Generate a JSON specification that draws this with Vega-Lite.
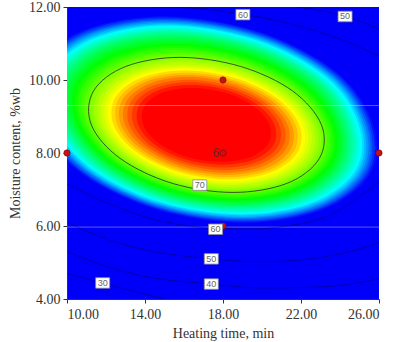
{
"$schema": "https://vega.github.io/schema/vega-lite/v6.json",
"width": 312, "height": 292,
"autosize": "none",
"padding": {"left": 67, "top": 7, "right": 24, "bottom": 43},
"background": "white",
"config": {
  "view": {"fill": "#0000fa", "stroke": null},
  "axis": {"grid": false, "labelFont": "Liberation Serif", "labelFontSize": 14, "titleFont": "Liberation Serif", "titleFontSize": 14, "titleFontWeight": "normal", "labelColor": "#333", "titleColor": "#333", "domainColor": "#333", "tickColor": "#333", "tickSize": 4, "labelPadding": 3}
},
"datasets": {
"bands": [
{"l":101,"i":0,"x":25.70,"y":8.77,"z":63.01},{"l":101,"i":1,"x":23.91,"y":10.18,"z":63.01},{"l":101,"i":2,"x":19.95,"y":11.31,"z":63.01},{"l":101,"i":3,"x":14.95,"y":11.75,"z":63.01},{"l":101,"i":4,"x":10.59,"y":11.31,"z":63.01},{"l":101,"i":5,"x":8.29,"y":10.18,"z":63.01},{"l":101,"i":6,"x":8.60,"y":8.77,"z":63.01},{"l":101,"i":7,"x":10.74,"y":7.43,"z":63.01},{"l":101,"i":8,"x":14.59,"y":6.45,"z":63.01},{"l":101,"i":9,"x":19.14,"y":6.09,"z":63.01},{"l":101,"i":10,"x":23.14,"y":6.45,"z":63.01},{"l":101,"i":11,"x":25.55,"y":7.43,"z":63.01},
{"l":102,"i":0,"x":25.60,"y":8.77,"z":63.34},{"l":102,"i":1,"x":23.83,"y":10.17,"z":63.34},{"l":102,"i":2,"x":19.92,"y":11.28,"z":63.34},{"l":102,"i":3,"x":14.97,"y":11.71,"z":63.34},{"l":102,"i":4,"x":10.66,"y":11.28,"z":63.34},{"l":102,"i":5,"x":8.40,"y":10.17,"z":63.34},{"l":102,"i":6,"x":8.70,"y":8.77,"z":63.34},{"l":102,"i":7,"x":10.82,"y":7.45,"z":63.34},{"l":102,"i":8,"x":14.62,"y":6.48,"z":63.34},{"l":102,"i":9,"x":19.11,"y":6.12,"z":63.34},{"l":102,"i":10,"x":23.07,"y":6.48,"z":63.34},{"l":102,"i":11,"x":25.45,"y":7.45,"z":63.34},
{"l":103,"i":0,"x":25.49,"y":8.77,"z":63.66},{"l":103,"i":1,"x":23.75,"y":10.15,"z":63.66},{"l":103,"i":2,"x":19.88,"y":11.25,"z":63.66},{"l":103,"i":3,"x":15.00,"y":11.67,"z":63.66},{"l":103,"i":4,"x":10.74,"y":11.25,"z":63.66},{"l":103,"i":5,"x":8.50,"y":10.15,"z":63.66},{"l":103,"i":6,"x":8.81,"y":8.77,"z":63.66},{"l":103,"i":7,"x":10.89,"y":7.46,"z":63.66},{"l":103,"i":8,"x":14.66,"y":6.50,"z":63.66},{"l":103,"i":9,"x":19.09,"y":6.15,"z":63.66},{"l":103,"i":10,"x":23.00,"y":6.50,"z":63.66},{"l":103,"i":11,"x":25.34,"y":7.46,"z":63.66},
{"l":104,"i":0,"x":25.39,"y":8.77,"z":63.99},{"l":104,"i":1,"x":23.67,"y":10.13,"z":63.99},{"l":104,"i":2,"x":19.85,"y":11.22,"z":63.99},{"l":104,"i":3,"x":15.03,"y":11.64,"z":63.99},{"l":104,"i":4,"x":10.82,"y":11.22,"z":63.99},{"l":104,"i":5,"x":8.61,"y":10.13,"z":63.99},{"l":104,"i":6,"x":8.91,"y":8.77,"z":63.99},{"l":104,"i":7,"x":10.97,"y":7.48,"z":63.99},{"l":104,"i":8,"x":14.69,"y":6.53,"z":63.99},{"l":104,"i":9,"x":19.06,"y":6.19,"z":63.99},{"l":104,"i":10,"x":22.93,"y":6.53,"z":63.99},{"l":104,"i":11,"x":25.24,"y":7.48,"z":63.99},
{"l":105,"i":0,"x":25.28,"y":8.77,"z":64.31},{"l":105,"i":1,"x":23.58,"y":10.12,"z":64.31},{"l":105,"i":2,"x":19.81,"y":11.19,"z":64.31},{"l":105,"i":3,"x":15.05,"y":11.60,"z":64.31},{"l":105,"i":4,"x":10.91,"y":11.19,"z":64.31},{"l":105,"i":5,"x":8.72,"y":10.12,"z":64.31},{"l":105,"i":6,"x":9.02,"y":8.77,"z":64.31},{"l":105,"i":7,"x":11.05,"y":7.50,"z":64.31},{"l":105,"i":8,"x":14.72,"y":6.56,"z":64.31},{"l":105,"i":9,"x":19.04,"y":6.22,"z":64.31},{"l":105,"i":10,"x":22.85,"y":6.56,"z":64.31},{"l":105,"i":11,"x":25.14,"y":7.50,"z":64.31},
{"l":106,"i":0,"x":25.17,"y":8.77,"z":64.64},{"l":106,"i":1,"x":23.50,"y":10.10,"z":64.64},{"l":106,"i":2,"x":19.78,"y":11.16,"z":64.64},{"l":106,"i":3,"x":15.08,"y":11.56,"z":64.64},{"l":106,"i":4,"x":10.99,"y":11.16,"z":64.64},{"l":106,"i":5,"x":8.84,"y":10.10,"z":64.64},{"l":106,"i":6,"x":9.13,"y":8.77,"z":64.64},{"l":106,"i":7,"x":11.13,"y":7.51,"z":64.64},{"l":106,"i":8,"x":14.75,"y":6.59,"z":64.64},{"l":106,"i":9,"x":19.01,"y":6.25,"z":64.64},{"l":106,"i":10,"x":22.78,"y":6.59,"z":64.64},{"l":106,"i":11,"x":25.03,"y":7.51,"z":64.64},
{"l":107,"i":0,"x":25.07,"y":8.77,"z":64.96},{"l":107,"i":1,"x":23.41,"y":10.08,"z":64.96},{"l":107,"i":2,"x":19.74,"y":11.12,"z":64.96},{"l":107,"i":3,"x":15.11,"y":11.53,"z":64.96},{"l":107,"i":4,"x":11.07,"y":11.12,"z":64.96},{"l":107,"i":5,"x":8.95,"y":10.08,"z":64.96},{"l":107,"i":6,"x":9.23,"y":8.77,"z":64.96},{"l":107,"i":7,"x":11.21,"y":7.53,"z":64.96},{"l":107,"i":8,"x":14.78,"y":6.62,"z":64.96},{"l":107,"i":9,"x":18.99,"y":6.29,"z":64.96},{"l":107,"i":10,"x":22.70,"y":6.62,"z":64.96},{"l":107,"i":11,"x":24.92,"y":7.53,"z":64.96},
{"l":108,"i":0,"x":24.96,"y":8.77,"z":65.29},{"l":108,"i":1,"x":23.33,"y":10.06,"z":65.29},{"l":108,"i":2,"x":19.71,"y":11.09,"z":65.29},{"l":108,"i":3,"x":15.14,"y":11.49,"z":65.29},{"l":108,"i":4,"x":11.16,"y":11.09,"z":65.29},{"l":108,"i":5,"x":9.06,"y":10.06,"z":65.29},{"l":108,"i":6,"x":9.34,"y":8.77,"z":65.29},{"l":108,"i":7,"x":11.30,"y":7.55,"z":65.29},{"l":108,"i":8,"x":14.82,"y":6.65,"z":65.29},{"l":108,"i":9,"x":18.96,"y":6.32,"z":65.29},{"l":108,"i":10,"x":22.62,"y":6.65,"z":65.29},{"l":108,"i":11,"x":24.82,"y":7.55,"z":65.29},
{"l":109,"i":0,"x":24.84,"y":8.77,"z":65.61},{"l":109,"i":1,"x":23.24,"y":10.04,"z":65.61},{"l":109,"i":2,"x":19.67,"y":11.06,"z":65.61},{"l":109,"i":3,"x":15.17,"y":11.45,"z":65.61},{"l":109,"i":4,"x":11.24,"y":11.06,"z":65.61},{"l":109,"i":5,"x":9.18,"y":10.04,"z":65.61},{"l":109,"i":6,"x":9.46,"y":8.77,"z":65.61},{"l":109,"i":7,"x":11.38,"y":7.56,"z":65.61},{"l":109,"i":8,"x":14.85,"y":6.68,"z":65.61},{"l":109,"i":9,"x":18.94,"y":6.36,"z":65.61},{"l":109,"i":10,"x":22.54,"y":6.68,"z":65.61},{"l":109,"i":11,"x":24.70,"y":7.56,"z":65.61},
{"l":110,"i":0,"x":24.73,"y":8.77,"z":65.94},{"l":110,"i":1,"x":23.15,"y":10.02,"z":65.94},{"l":110,"i":2,"x":19.63,"y":11.02,"z":65.94},{"l":110,"i":3,"x":15.20,"y":11.41,"z":65.94},{"l":110,"i":4,"x":11.33,"y":11.02,"z":65.94},{"l":110,"i":5,"x":9.30,"y":10.02,"z":65.94},{"l":110,"i":6,"x":9.57,"y":8.77,"z":65.94},{"l":110,"i":7,"x":11.47,"y":7.58,"z":65.94},{"l":110,"i":8,"x":14.88,"y":6.71,"z":65.94},{"l":110,"i":9,"x":18.91,"y":6.39,"z":65.94},{"l":110,"i":10,"x":22.46,"y":6.71,"z":65.94},{"l":110,"i":11,"x":24.59,"y":7.58,"z":65.94},
{"l":111,"i":0,"x":24.61,"y":8.77,"z":66.26},{"l":111,"i":1,"x":23.05,"y":10.00,"z":66.26},{"l":111,"i":2,"x":19.59,"y":10.99,"z":66.26},{"l":111,"i":3,"x":15.23,"y":11.37,"z":66.26},{"l":111,"i":4,"x":11.42,"y":10.99,"z":66.26},{"l":111,"i":5,"x":9.42,"y":10.00,"z":66.26},{"l":111,"i":6,"x":9.69,"y":8.77,"z":66.26},{"l":111,"i":7,"x":11.55,"y":7.60,"z":66.26},{"l":111,"i":8,"x":14.92,"y":6.74,"z":66.26},{"l":111,"i":9,"x":18.88,"y":6.43,"z":66.26},{"l":111,"i":10,"x":22.38,"y":6.74,"z":66.26},{"l":111,"i":11,"x":24.48,"y":7.60,"z":66.26},
{"l":112,"i":0,"x":24.50,"y":8.77,"z":66.59},{"l":112,"i":1,"x":22.96,"y":9.99,"z":66.59},{"l":112,"i":2,"x":19.55,"y":10.95,"z":66.59},{"l":112,"i":3,"x":15.26,"y":11.33,"z":66.59},{"l":112,"i":4,"x":11.51,"y":10.95,"z":66.59},{"l":112,"i":5,"x":9.54,"y":9.99,"z":66.59},{"l":112,"i":6,"x":9.80,"y":8.77,"z":66.59},{"l":112,"i":7,"x":11.64,"y":7.62,"z":66.59},{"l":112,"i":8,"x":14.95,"y":6.78,"z":66.59},{"l":112,"i":9,"x":18.86,"y":6.47,"z":66.59},{"l":112,"i":10,"x":22.30,"y":6.78,"z":66.59},{"l":112,"i":11,"x":24.36,"y":7.62,"z":66.59},
{"l":113,"i":0,"x":24.38,"y":8.77,"z":66.91},{"l":113,"i":1,"x":22.87,"y":9.97,"z":66.91},{"l":113,"i":2,"x":19.52,"y":10.92,"z":66.91},{"l":113,"i":3,"x":15.29,"y":11.28,"z":66.91},{"l":113,"i":4,"x":11.60,"y":10.92,"z":66.91},{"l":113,"i":5,"x":9.66,"y":9.97,"z":66.91},{"l":113,"i":6,"x":9.92,"y":8.77,"z":66.91},{"l":113,"i":7,"x":11.73,"y":7.64,"z":66.91},{"l":113,"i":8,"x":14.99,"y":6.81,"z":66.91},{"l":113,"i":9,"x":18.83,"y":6.50,"z":66.91},{"l":113,"i":10,"x":22.22,"y":6.81,"z":66.91},{"l":113,"i":11,"x":24.25,"y":7.64,"z":66.91},
{"l":114,"i":0,"x":24.25,"y":8.77,"z":67.24},{"l":114,"i":1,"x":22.77,"y":9.95,"z":67.24},{"l":114,"i":2,"x":19.48,"y":10.88,"z":67.24},{"l":114,"i":3,"x":15.32,"y":11.24,"z":67.24},{"l":114,"i":4,"x":11.69,"y":10.88,"z":67.24},{"l":114,"i":5,"x":9.79,"y":9.95,"z":67.24},{"l":114,"i":6,"x":10.05,"y":8.77,"z":67.24},{"l":114,"i":7,"x":11.82,"y":7.66,"z":67.24},{"l":114,"i":8,"x":15.03,"y":6.84,"z":67.24},{"l":114,"i":9,"x":18.80,"y":6.54,"z":67.24},{"l":114,"i":10,"x":22.13,"y":6.84,"z":67.24},{"l":114,"i":11,"x":24.13,"y":7.66,"z":67.24},
{"l":115,"i":0,"x":24.13,"y":8.77,"z":67.56},{"l":115,"i":1,"x":22.66,"y":9.92,"z":67.56},{"l":115,"i":2,"x":19.42,"y":10.84,"z":67.56},{"l":115,"i":3,"x":15.36,"y":11.19,"z":67.56},{"l":115,"i":4,"x":11.81,"y":10.84,"z":67.56},{"l":115,"i":5,"x":9.94,"y":9.92,"z":67.56},{"l":115,"i":6,"x":10.17,"y":8.77,"z":67.56},{"l":115,"i":7,"x":11.92,"y":7.68,"z":67.56},{"l":115,"i":8,"x":15.06,"y":6.87,"z":67.56},{"l":115,"i":9,"x":18.77,"y":6.58,"z":67.56},{"l":115,"i":10,"x":22.04,"y":6.87,"z":67.56},{"l":115,"i":11,"x":24.01,"y":7.68,"z":67.56},
{"l":116,"i":0,"x":24.01,"y":8.77,"z":67.89},{"l":116,"i":1,"x":22.54,"y":9.90,"z":67.89},{"l":116,"i":2,"x":19.37,"y":10.79,"z":67.89},{"l":116,"i":3,"x":15.41,"y":11.13,"z":67.89},{"l":116,"i":4,"x":11.94,"y":10.79,"z":67.89},{"l":116,"i":5,"x":10.09,"y":9.90,"z":67.89},{"l":116,"i":6,"x":10.29,"y":8.77,"z":67.89},{"l":116,"i":7,"x":12.01,"y":7.70,"z":67.89},{"l":116,"i":8,"x":15.10,"y":6.91,"z":67.89},{"l":116,"i":9,"x":18.74,"y":6.62,"z":67.89},{"l":116,"i":10,"x":21.96,"y":6.91,"z":67.89},{"l":116,"i":11,"x":23.88,"y":7.70,"z":67.89},
{"l":117,"i":0,"x":23.88,"y":8.77,"z":68.21},{"l":117,"i":1,"x":22.42,"y":9.87,"z":68.21},{"l":117,"i":2,"x":19.31,"y":10.74,"z":68.21},{"l":117,"i":3,"x":15.45,"y":11.06,"z":68.21},{"l":117,"i":4,"x":12.07,"y":10.74,"z":68.21},{"l":117,"i":5,"x":10.25,"y":9.87,"z":68.21},{"l":117,"i":6,"x":10.42,"y":8.77,"z":68.21},{"l":117,"i":7,"x":12.11,"y":7.72,"z":68.21},{"l":117,"i":8,"x":15.14,"y":6.94,"z":68.21},{"l":117,"i":9,"x":18.71,"y":6.66,"z":68.21},{"l":117,"i":10,"x":21.87,"y":6.94,"z":68.21},{"l":117,"i":11,"x":23.76,"y":7.72,"z":68.21},
{"l":118,"i":0,"x":23.75,"y":8.77,"z":68.54},{"l":118,"i":1,"x":22.29,"y":9.85,"z":68.54},{"l":118,"i":2,"x":19.26,"y":10.69,"z":68.54},{"l":118,"i":3,"x":15.50,"y":11.00,"z":68.54},{"l":118,"i":4,"x":12.21,"y":10.69,"z":68.54},{"l":118,"i":5,"x":10.41,"y":9.85,"z":68.54},{"l":118,"i":6,"x":10.55,"y":8.77,"z":68.54},{"l":118,"i":7,"x":12.20,"y":7.74,"z":68.54},{"l":118,"i":8,"x":15.18,"y":6.98,"z":68.54},{"l":118,"i":9,"x":18.68,"y":6.70,"z":68.54},{"l":118,"i":10,"x":21.77,"y":6.98,"z":68.54},{"l":118,"i":11,"x":23.63,"y":7.74,"z":68.54},
{"l":119,"i":0,"x":23.61,"y":8.77,"z":68.86},{"l":119,"i":1,"x":22.17,"y":9.82,"z":68.86},{"l":119,"i":2,"x":19.20,"y":10.63,"z":68.86},{"l":119,"i":3,"x":15.54,"y":10.94,"z":68.86},{"l":119,"i":4,"x":12.34,"y":10.63,"z":68.86},{"l":119,"i":5,"x":10.58,"y":9.82,"z":68.86},{"l":119,"i":6,"x":10.69,"y":8.77,"z":68.86},{"l":119,"i":7,"x":12.30,"y":7.76,"z":68.86},{"l":119,"i":8,"x":15.22,"y":7.02,"z":68.86},{"l":119,"i":9,"x":18.65,"y":6.74,"z":68.86},{"l":119,"i":10,"x":21.68,"y":7.02,"z":68.86},{"l":119,"i":11,"x":23.50,"y":7.76,"z":68.86},
{"l":120,"i":0,"x":23.48,"y":8.77,"z":69.19},{"l":120,"i":1,"x":22.04,"y":9.79,"z":69.19},{"l":120,"i":2,"x":19.14,"y":10.58,"z":69.19},{"l":120,"i":3,"x":15.59,"y":10.88,"z":69.19},{"l":120,"i":4,"x":12.47,"y":10.58,"z":69.19},{"l":120,"i":5,"x":10.74,"y":9.79,"z":69.19},{"l":120,"i":6,"x":10.82,"y":8.77,"z":69.19},{"l":120,"i":7,"x":12.41,"y":7.78,"z":69.19},{"l":120,"i":8,"x":15.26,"y":7.05,"z":69.19},{"l":120,"i":9,"x":18.62,"y":6.79,"z":69.19},{"l":120,"i":10,"x":21.59,"y":7.05,"z":69.19},{"l":120,"i":11,"x":23.36,"y":7.78,"z":69.19},
{"l":121,"i":0,"x":23.34,"y":8.77,"z":69.51},{"l":121,"i":1,"x":21.92,"y":9.77,"z":69.51},{"l":121,"i":2,"x":19.09,"y":10.53,"z":69.51},{"l":121,"i":3,"x":15.63,"y":10.82,"z":69.51},{"l":121,"i":4,"x":12.61,"y":10.53,"z":69.51},{"l":121,"i":5,"x":10.91,"y":9.77,"z":69.51},{"l":121,"i":6,"x":10.96,"y":8.77,"z":69.51},{"l":121,"i":7,"x":12.51,"y":7.80,"z":69.51},{"l":121,"i":8,"x":15.30,"y":7.09,"z":69.51},{"l":121,"i":9,"x":18.59,"y":6.83,"z":69.51},{"l":121,"i":10,"x":21.49,"y":7.09,"z":69.51},{"l":121,"i":11,"x":23.23,"y":7.80,"z":69.51},
{"l":122,"i":0,"x":23.20,"y":8.77,"z":69.84},{"l":122,"i":1,"x":21.79,"y":9.74,"z":69.84},{"l":122,"i":2,"x":19.03,"y":10.48,"z":69.84},{"l":122,"i":3,"x":15.68,"y":10.75,"z":69.84},{"l":122,"i":4,"x":12.74,"y":10.48,"z":69.84},{"l":122,"i":5,"x":11.08,"y":9.74,"z":69.84},{"l":122,"i":6,"x":11.10,"y":8.77,"z":69.84},{"l":122,"i":7,"x":12.62,"y":7.82,"z":69.84},{"l":122,"i":8,"x":15.34,"y":7.13,"z":69.84},{"l":122,"i":9,"x":18.55,"y":6.87,"z":69.84},{"l":122,"i":10,"x":21.39,"y":7.13,"z":69.84},{"l":122,"i":11,"x":23.09,"y":7.82,"z":69.84},
{"l":123,"i":0,"x":23.05,"y":8.77,"z":70.16},{"l":123,"i":1,"x":21.66,"y":9.71,"z":70.16},{"l":123,"i":2,"x":18.97,"y":10.42,"z":70.16},{"l":123,"i":3,"x":15.73,"y":10.69,"z":70.16},{"l":123,"i":4,"x":12.88,"y":10.42,"z":70.16},{"l":123,"i":5,"x":11.25,"y":9.71,"z":70.16},{"l":123,"i":6,"x":11.25,"y":8.77,"z":70.16},{"l":123,"i":7,"x":12.73,"y":7.85,"z":70.16},{"l":123,"i":8,"x":15.39,"y":7.17,"z":70.16},{"l":123,"i":9,"x":18.52,"y":6.92,"z":70.16},{"l":123,"i":10,"x":21.29,"y":7.17,"z":70.16},{"l":123,"i":11,"x":22.94,"y":7.85,"z":70.16},
{"l":124,"i":0,"x":22.90,"y":8.77,"z":70.49},{"l":124,"i":1,"x":21.52,"y":9.68,"z":70.49},{"l":124,"i":2,"x":18.91,"y":10.37,"z":70.49},{"l":124,"i":3,"x":15.78,"y":10.62,"z":70.49},{"l":124,"i":4,"x":13.02,"y":10.37,"z":70.49},{"l":124,"i":5,"x":11.42,"y":9.68,"z":70.49},{"l":124,"i":6,"x":11.40,"y":8.77,"z":70.49},{"l":124,"i":7,"x":12.84,"y":7.87,"z":70.49},{"l":124,"i":8,"x":15.43,"y":7.21,"z":70.49},{"l":124,"i":9,"x":18.49,"y":6.97,"z":70.49},{"l":124,"i":10,"x":21.18,"y":7.21,"z":70.49},{"l":124,"i":11,"x":22.80,"y":7.87,"z":70.49},
{"l":125,"i":0,"x":22.75,"y":8.77,"z":70.81},{"l":125,"i":1,"x":21.39,"y":9.66,"z":70.81},{"l":125,"i":2,"x":18.85,"y":10.31,"z":70.81},{"l":125,"i":3,"x":15.83,"y":10.56,"z":70.81},{"l":125,"i":4,"x":13.17,"y":10.31,"z":70.81},{"l":125,"i":5,"x":11.60,"y":9.66,"z":70.81},{"l":125,"i":6,"x":11.55,"y":8.77,"z":70.81},{"l":125,"i":7,"x":12.95,"y":7.89,"z":70.81},{"l":125,"i":8,"x":15.48,"y":7.25,"z":70.81},{"l":125,"i":9,"x":18.45,"y":7.01,"z":70.81},{"l":125,"i":10,"x":21.07,"y":7.25,"z":70.81},{"l":125,"i":11,"x":22.65,"y":7.89,"z":70.81},
{"l":126,"i":0,"x":22.59,"y":8.77,"z":71.14},{"l":126,"i":1,"x":21.25,"y":9.63,"z":71.14},{"l":126,"i":2,"x":18.79,"y":10.26,"z":71.14},{"l":126,"i":3,"x":15.88,"y":10.49,"z":71.14},{"l":126,"i":4,"x":13.31,"y":10.26,"z":71.14},{"l":126,"i":5,"x":11.79,"y":9.63,"z":71.14},{"l":126,"i":6,"x":11.71,"y":8.77,"z":71.14},{"l":126,"i":7,"x":13.07,"y":7.92,"z":71.14},{"l":126,"i":8,"x":15.52,"y":7.29,"z":71.14},{"l":126,"i":9,"x":18.41,"y":7.06,"z":71.14},{"l":126,"i":10,"x":20.96,"y":7.29,"z":71.14},{"l":126,"i":11,"x":22.49,"y":7.92,"z":71.14},
{"l":127,"i":0,"x":22.43,"y":8.77,"z":71.46},{"l":127,"i":1,"x":21.11,"y":9.60,"z":71.46},{"l":127,"i":2,"x":18.73,"y":10.20,"z":71.46},{"l":127,"i":3,"x":15.92,"y":10.42,"z":71.46},{"l":127,"i":4,"x":13.45,"y":10.20,"z":71.46},{"l":127,"i":5,"x":11.97,"y":9.60,"z":71.46},{"l":127,"i":6,"x":11.87,"y":8.77,"z":71.46},{"l":127,"i":7,"x":13.19,"y":7.94,"z":71.46},{"l":127,"i":8,"x":15.57,"y":7.34,"z":71.46},{"l":127,"i":9,"x":18.38,"y":7.12,"z":71.46},{"l":127,"i":10,"x":20.85,"y":7.34,"z":71.46},{"l":127,"i":11,"x":22.33,"y":7.94,"z":71.46},
{"l":128,"i":0,"x":22.26,"y":8.77,"z":71.79},{"l":128,"i":1,"x":20.98,"y":9.57,"z":71.79},{"l":128,"i":2,"x":18.68,"y":10.16,"z":71.79},{"l":128,"i":3,"x":15.96,"y":10.37,"z":71.79},{"l":128,"i":4,"x":13.57,"y":10.16,"z":71.79},{"l":128,"i":5,"x":12.13,"y":9.57,"z":71.79},{"l":128,"i":6,"x":12.04,"y":8.77,"z":71.79},{"l":128,"i":7,"x":13.32,"y":7.97,"z":71.79},{"l":128,"i":8,"x":15.62,"y":7.38,"z":71.79},{"l":128,"i":9,"x":18.34,"y":7.17,"z":71.79},{"l":128,"i":10,"x":20.73,"y":7.38,"z":71.79},{"l":128,"i":11,"x":22.17,"y":7.97,"z":71.79},
{"l":129,"i":0,"x":22.09,"y":8.77,"z":72.11},{"l":129,"i":1,"x":20.85,"y":9.54,"z":72.11},{"l":129,"i":2,"x":18.63,"y":10.11,"z":72.11},{"l":129,"i":3,"x":16.00,"y":10.32,"z":72.11},{"l":129,"i":4,"x":13.69,"y":10.11,"z":72.11},{"l":129,"i":5,"x":12.30,"y":9.54,"z":72.11},{"l":129,"i":6,"x":12.21,"y":8.77,"z":72.11},{"l":129,"i":7,"x":13.45,"y":8.00,"z":72.11},{"l":129,"i":8,"x":15.67,"y":7.43,"z":72.11},{"l":129,"i":9,"x":18.30,"y":7.22,"z":72.11},{"l":129,"i":10,"x":20.61,"y":7.43,"z":72.11},{"l":129,"i":11,"x":22.00,"y":8.00,"z":72.11},
{"l":130,"i":0,"x":21.91,"y":8.77,"z":72.44},{"l":130,"i":1,"x":20.72,"y":9.52,"z":72.44},{"l":130,"i":2,"x":18.57,"y":10.06,"z":72.44},{"l":130,"i":3,"x":16.05,"y":10.26,"z":72.44},{"l":130,"i":4,"x":13.82,"y":10.06,"z":72.44},{"l":130,"i":5,"x":12.48,"y":9.52,"z":72.44},{"l":130,"i":6,"x":12.39,"y":8.77,"z":72.44},{"l":130,"i":7,"x":13.58,"y":8.02,"z":72.44},{"l":130,"i":8,"x":15.73,"y":7.48,"z":72.44},{"l":130,"i":9,"x":18.25,"y":7.28,"z":72.44},{"l":130,"i":10,"x":20.48,"y":7.48,"z":72.44},{"l":130,"i":11,"x":21.82,"y":8.02,"z":72.44},
{"l":131,"i":0,"x":21.72,"y":8.77,"z":72.76},{"l":131,"i":1,"x":20.58,"y":9.49,"z":72.76},{"l":131,"i":2,"x":18.52,"y":10.01,"z":72.76},{"l":131,"i":3,"x":16.09,"y":10.20,"z":72.76},{"l":131,"i":4,"x":13.95,"y":10.01,"z":72.76},{"l":131,"i":5,"x":12.66,"y":9.49,"z":72.76},{"l":131,"i":6,"x":12.58,"y":8.77,"z":72.76},{"l":131,"i":7,"x":13.72,"y":8.05,"z":72.76},{"l":131,"i":8,"x":15.78,"y":7.53,"z":72.76},{"l":131,"i":9,"x":18.21,"y":7.34,"z":72.76},{"l":131,"i":10,"x":20.35,"y":7.53,"z":72.76},{"l":131,"i":11,"x":21.64,"y":8.05,"z":72.76},
{"l":132,"i":0,"x":21.53,"y":8.77,"z":73.09},{"l":132,"i":1,"x":20.43,"y":9.46,"z":73.09},{"l":132,"i":2,"x":18.46,"y":9.96,"z":73.09},{"l":132,"i":3,"x":16.13,"y":10.14,"z":73.09},{"l":132,"i":4,"x":14.08,"y":9.96,"z":73.09},{"l":132,"i":5,"x":12.85,"y":9.46,"z":73.09},{"l":132,"i":6,"x":12.77,"y":8.77,"z":73.09},{"l":132,"i":7,"x":13.87,"y":8.08,"z":73.09},{"l":132,"i":8,"x":15.84,"y":7.58,"z":73.09},{"l":132,"i":9,"x":18.17,"y":7.40,"z":73.09},{"l":132,"i":10,"x":20.22,"y":7.58,"z":73.09},{"l":132,"i":11,"x":21.45,"y":8.08,"z":73.09},
{"l":133,"i":0,"x":21.32,"y":8.77,"z":73.41},{"l":133,"i":1,"x":20.28,"y":9.42,"z":73.41},{"l":133,"i":2,"x":18.40,"y":9.90,"z":73.41},{"l":133,"i":3,"x":16.18,"y":10.08,"z":73.41},{"l":133,"i":4,"x":14.23,"y":9.90,"z":73.41},{"l":133,"i":5,"x":13.05,"y":9.42,"z":73.41},{"l":133,"i":6,"x":12.98,"y":8.77,"z":73.41},{"l":133,"i":7,"x":14.02,"y":8.12,"z":73.41},{"l":133,"i":8,"x":15.90,"y":7.64,"z":73.41},{"l":133,"i":9,"x":18.12,"y":7.46,"z":73.41},{"l":133,"i":10,"x":20.07,"y":7.64,"z":73.41},{"l":133,"i":11,"x":21.25,"y":8.12,"z":73.41},
{"l":134,"i":0,"x":21.11,"y":8.77,"z":73.74},{"l":134,"i":1,"x":20.12,"y":9.39,"z":73.74},{"l":134,"i":2,"x":18.33,"y":9.84,"z":73.74},{"l":134,"i":3,"x":16.23,"y":10.01,"z":73.74},{"l":134,"i":4,"x":14.38,"y":9.84,"z":73.74},{"l":134,"i":5,"x":13.26,"y":9.39,"z":73.74},{"l":134,"i":6,"x":13.19,"y":8.77,"z":73.74},{"l":134,"i":7,"x":14.18,"y":8.15,"z":73.74},{"l":134,"i":8,"x":15.97,"y":7.70,"z":73.74},{"l":134,"i":9,"x":18.07,"y":7.53,"z":73.74},{"l":134,"i":10,"x":19.92,"y":7.70,"z":73.74},{"l":134,"i":11,"x":21.04,"y":8.15,"z":73.74},
{"l":135,"i":0,"x":20.88,"y":8.77,"z":74.06},{"l":135,"i":1,"x":19.95,"y":9.36,"z":74.06},{"l":135,"i":2,"x":18.27,"y":9.78,"z":74.06},{"l":135,"i":3,"x":16.28,"y":9.94,"z":74.06},{"l":135,"i":4,"x":14.53,"y":9.78,"z":74.06},{"l":135,"i":5,"x":13.49,"y":9.36,"z":74.06},{"l":135,"i":6,"x":13.42,"y":8.77,"z":74.06},{"l":135,"i":7,"x":14.35,"y":8.18,"z":74.06},{"l":135,"i":8,"x":16.03,"y":7.76,"z":74.06},{"l":135,"i":9,"x":18.02,"y":7.60,"z":74.06},{"l":135,"i":10,"x":19.77,"y":7.76,"z":74.06},{"l":135,"i":11,"x":20.82,"y":8.18,"z":74.06},
{"l":136,"i":0,"x":20.64,"y":8.77,"z":74.39},{"l":136,"i":1,"x":19.77,"y":9.32,"z":74.39},{"l":136,"i":2,"x":18.19,"y":9.72,"z":74.39},{"l":136,"i":3,"x":16.34,"y":9.86,"z":74.39},{"l":136,"i":4,"x":14.70,"y":9.72,"z":74.39},{"l":136,"i":5,"x":13.72,"y":9.32,"z":74.39},{"l":136,"i":6,"x":13.66,"y":8.77,"z":74.39},{"l":136,"i":7,"x":14.53,"y":8.22,"z":74.39},{"l":136,"i":8,"x":16.11,"y":7.82,"z":74.39},{"l":136,"i":9,"x":17.96,"y":7.68,"z":74.39},{"l":136,"i":10,"x":19.60,"y":7.82,"z":74.39},{"l":136,"i":11,"x":20.58,"y":8.22,"z":74.39},
{"l":137,"i":0,"x":20.38,"y":8.77,"z":74.71},{"l":137,"i":1,"x":19.57,"y":9.28,"z":74.71},{"l":137,"i":2,"x":18.12,"y":9.65,"z":74.71},{"l":137,"i":3,"x":16.40,"y":9.78,"z":74.71},{"l":137,"i":4,"x":14.88,"y":9.65,"z":74.71},{"l":137,"i":5,"x":13.98,"y":9.28,"z":74.71},{"l":137,"i":6,"x":13.92,"y":8.77,"z":74.71},{"l":137,"i":7,"x":14.73,"y":8.26,"z":74.71},{"l":137,"i":8,"x":16.18,"y":7.89,"z":74.71},{"l":137,"i":9,"x":17.90,"y":7.76,"z":74.71},{"l":137,"i":10,"x":19.42,"y":7.89,"z":74.71},{"l":137,"i":11,"x":20.32,"y":8.26,"z":74.71},
{"l":138,"i":0,"x":20.10,"y":8.77,"z":75.04},{"l":138,"i":1,"x":19.36,"y":9.23,"z":75.04},{"l":138,"i":2,"x":18.03,"y":9.57,"z":75.04},{"l":138,"i":3,"x":16.47,"y":9.70,"z":75.04},{"l":138,"i":4,"x":15.08,"y":9.57,"z":75.04},{"l":138,"i":5,"x":14.25,"y":9.23,"z":75.04},{"l":138,"i":6,"x":14.20,"y":8.77,"z":75.04},{"l":138,"i":7,"x":14.94,"y":8.31,"z":75.04},{"l":138,"i":8,"x":16.27,"y":7.97,"z":75.04},{"l":138,"i":9,"x":17.84,"y":7.85,"z":75.04},{"l":138,"i":10,"x":19.22,"y":7.97,"z":75.04},{"l":138,"i":11,"x":20.05,"y":8.31,"z":75.04},
{"l":139,"i":0,"x":19.79,"y":8.77,"z":75.36},{"l":139,"i":1,"x":19.13,"y":9.18,"z":75.36},{"l":139,"i":2,"x":17.94,"y":9.49,"z":75.36},{"l":139,"i":3,"x":16.54,"y":9.60,"z":75.36},{"l":139,"i":4,"x":15.30,"y":9.49,"z":75.36},{"l":139,"i":5,"x":14.56,"y":9.18,"z":75.36},{"l":139,"i":6,"x":14.51,"y":8.77,"z":75.36},{"l":139,"i":7,"x":15.17,"y":8.36,"z":75.36},{"l":139,"i":8,"x":16.36,"y":8.05,"z":75.36},{"l":139,"i":9,"x":17.76,"y":7.94,"z":75.36},{"l":139,"i":10,"x":19.00,"y":8.05,"z":75.36},{"l":139,"i":11,"x":19.71,"y":8.36,"z":75.36}
],
"c70": [
{"i":0,"x":23.05,"y":8.77},{"i":1,"x":21.57,"y":9.70},{"i":2,"x":18.91,"y":10.37},{"i":3,"x":15.78,"y":10.62},{"i":4,"x":13.01,"y":10.37},{"i":5,"x":11.36,"y":9.70},{"i":6,"x":11.25,"y":8.77},{"i":7,"x":12.73,"y":7.85},{"i":8,"x":15.39,"y":7.17},{"i":9,"x":18.52,"y":6.92},{"i":10,"x":21.29,"y":7.17},{"i":11,"x":22.94,"y":7.85}
],
"cl": [
{"c":"60t","x":14.5,"y":12.0},{"c":"60t","x":16.5,"y":11.97},{"c":"60t","x":19.0,"y":11.8},{"c":"60t","x":21.0,"y":11.6},{"c":"60t","x":23.0,"y":11.3},{"c":"60t","x":24.8,"y":10.95},{"c":"60t","x":26.0,"y":10.65},
{"c":"50t","x":21.8,"y":12.0},{"c":"50t","x":23.0,"y":11.9},{"c":"50t","x":24.3,"y":11.74},{"c":"50t","x":25.3,"y":11.55},{"c":"50t","x":26.0,"y":11.4},
{"c":"60b","x":10.0,"y":7.15},{"c":"60b","x":12.0,"y":6.65},{"c":"60b","x":14.0,"y":6.25},{"c":"60b","x":16.0,"y":6.02},{"c":"60b","x":17.6,"y":5.93},{"c":"60b","x":19.5,"y":5.92},{"c":"60b","x":21.5,"y":6.02},{"c":"60b","x":23.5,"y":6.3},{"c":"60b","x":25.0,"y":6.8},{"c":"60b","x":26.0,"y":7.2},
{"c":"50b","x":10.0,"y":6.1},{"c":"50b","x":12.0,"y":5.65},{"c":"50b","x":14.0,"y":5.35},{"c":"50b","x":17.4,"y":5.1},{"c":"50b","x":20.0,"y":5.02},{"c":"50b","x":22.5,"y":5.1},{"c":"50b","x":24.5,"y":5.3},{"c":"50b","x":26.0,"y":5.55},
{"c":"40b","x":10.0,"y":5.3},{"c":"40b","x":12.0,"y":4.9},{"c":"40b","x":14.0,"y":4.62},{"c":"40b","x":17.4,"y":4.41},{"c":"40b","x":20.0,"y":4.3},{"c":"40b","x":23.0,"y":4.33},{"c":"40b","x":26.0,"y":4.55},
{"c":"30b","x":10.0,"y":4.7},{"c":"30b","x":11.8,"y":4.44},{"c":"30b","x":13.5,"y":4.2},{"c":"30b","x":15.0,"y":4.0}
],
"labels": [
{"t":"60","x":19.02,"y":11.79},{"t":"50","x":24.26,"y":11.74},{"t":"70","x":16.81,"y":7.12},{"t":"60","x":17.62,"y":5.91},{"t":"50","x":17.40,"y":5.10},{"t":"40","x":17.40,"y":4.41},{"t":"30","x":11.83,"y":4.44}
],
"pts": [
{"x":10,"y":8},{"x":26,"y":8},{"x":18,"y":10},{"x":18,"y":6},{"x":18,"y":8}
],
"streaks": [{"y":5.97},{"y":9.3}]
},
"layer": [
{
 "data": {"name": "bands"},
 "mark": {"type": "line", "interpolate": "cardinal-closed", "clip": true, "strokeWidth": 0, "strokeOpacity": 0},
 "encoding": {
  "x": {"field": "x", "type": "quantitative", "scale": {"domain": [10, 26], "nice": false, "zero": false}, "axis": {"values": [10, 14, 18, 22, 26], "format": ".2f", "title": "Heating time, min", "labelPadding": 4, "titlePadding": 5}},
  "y": {"field": "y", "type": "quantitative", "scale": {"domain": [4, 12], "nice": false, "zero": false}, "axis": {"values": [4, 6, 8, 10, 12], "format": ".2f", "title": "Moisture content, %wb", "titlePadding": 6}},
  "order": {"field": "i", "type": "quantitative"},
  "detail": {"field": "l", "type": "nominal"},
  "fill": {"field": "z", "type": "quantitative", "legend": null, "scale": {"domain": [62.85, 65.3, 68.6, 72.1, 74.6], "range": ["#0000fa", "#00ffff", "#00ff00", "#ffff00", "#ff0000"], "clamp": true, "interpolate": "rgb"}}
 }
},
{
 "data": {"name": "streaks"},
 "mark": {"type": "rule", "color": "#ffffff", "strokeWidth": 1, "opacity": 0.35},
 "encoding": {"y": {"field": "y", "type": "quantitative"}}
},
{
 "data": {"name": "cl"},
 "mark": {"type": "line", "interpolate": "monotone", "clip": true, "color": "#000000", "strokeWidth": 1, "opacity": 0.3},
 "encoding": {
  "x": {"field": "x", "type": "quantitative"},
  "y": {"field": "y", "type": "quantitative"},
  "detail": {"field": "c", "type": "nominal"}
 }
},
{
 "data": {"name": "c70"},
 "mark": {"type": "line", "interpolate": "cardinal-closed", "color": "#2a2a2a", "strokeWidth": 1, "opacity": 0.8},
 "encoding": {
  "x": {"field": "x", "type": "quantitative"},
  "y": {"field": "y", "type": "quantitative"},
  "order": {"field": "i", "type": "quantitative"}
 }
},
{
 "data": {"name": "pts"},
 "mark": {"type": "point", "filled": true, "color": "#c8101a", "size": 40, "stroke": "#7a0a0a", "strokeWidth": 0.6, "opacity": 1},
 "encoding": {
  "x": {"field": "x", "type": "quantitative"},
  "y": {"field": "y", "type": "quantitative"}
 }
},
{
 "data": {"values": [{"t": "6", "x": 17.8, "y": 8.0}]},
 "mark": {"type": "text", "align": "right", "baseline": "middle", "font": "Liberation Sans", "fontSize": 12, "color": "#6a2424"},
 "encoding": {
  "x": {"field": "x", "type": "quantitative"},
  "y": {"field": "y", "type": "quantitative"},
  "text": {"field": "t"}
 }
},
{
 "data": {"name": "labels"},
 "mark": {"type": "point", "shape": "M-1,-0.75H1V0.75H-1Z", "size": 196, "filled": true, "fill": "#ffffff", "stroke": "#8a8a8a", "strokeWidth": 0.8, "opacity": 1},
 "encoding": {
  "x": {"field": "x", "type": "quantitative"},
  "y": {"field": "y", "type": "quantitative"}
 }
},
{
 "data": {"name": "labels"},
 "mark": {"type": "text", "align": "center", "baseline": "middle", "font": "Liberation Sans", "fontSize": 9, "color": "#666666"},
 "encoding": {
  "x": {"field": "x", "type": "quantitative"},
  "y": {"field": "y", "type": "quantitative"},
  "text": {"field": "t"}
 }
}
]
}
